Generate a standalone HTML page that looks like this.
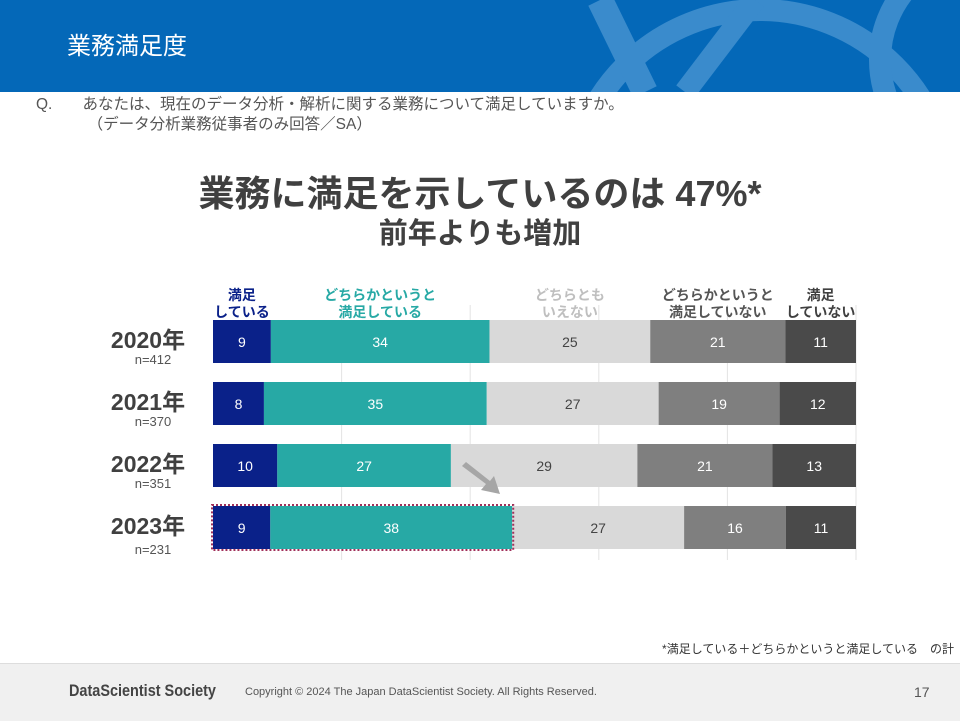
<!DOCTYPE html>
<html><head><meta charset="utf-8"><style>
body{margin:0;width:960px;height:720px;overflow:hidden;background:#fff;font-family:"Liberation Sans","Noto Sans CJK JP",sans-serif;position:relative}
.abs{position:absolute}
</style></head><body>
<div class="abs" style="left:0;top:0;width:960px;height:92px;background:#0468b8;overflow:hidden">
<svg width="960" height="92" style="position:absolute;left:0;top:0">
<circle cx="760" cy="200" r="190" fill="none" stroke="#3a8bcc" stroke-width="22"/>
<path d="M600 0 L645 92" stroke="#3a8bcc" stroke-width="26"/>
<path d="M755 0 L685 92" stroke="#3a8bcc" stroke-width="22"/>
<circle cx="990" cy="60" r="110" fill="none" stroke="#3a8bcc" stroke-width="22"/>
</svg>
<div class="abs" style="left:67px;top:26px;color:#fff;font-size:24px">業務満足度</div>
</div>
<div class="abs" style="left:36px;top:95px;font-size:15.5px;color:#555;line-height:20px">Q.&nbsp;&nbsp;&nbsp;&nbsp;&nbsp;&nbsp;&nbsp;あなたは、現在のデータ分析・解析に関する業務について満足していますか。<br>&nbsp;&nbsp;&nbsp;&nbsp;&nbsp;&nbsp;&nbsp;&nbsp;&nbsp;&nbsp;&nbsp;&nbsp;（データ分析業務従事者のみ回答／SA）</div>
<div class="abs" style="left:0;width:960px;top:165px;text-align:center;font-size:36px;font-weight:bold;color:#404040">業務に満足を示しているのは 47%*</div>
<div class="abs" style="left:0;width:960px;top:210px;text-align:center;font-size:29px;font-weight:bold;color:#404040">前年よりも増加</div>
<svg class="abs" id="chart" style="left:0;top:0" width="960" height="720"></svg>
<div class="abs" style="right:6px;top:640px;font-size:12px;color:#333">*満足している＋どちらかというと満足している　の計</div>
<div class="abs" style="left:0;top:663px;width:960px;height:57px;background:#f0f0f0;border-top:1px solid #ddd">
<div class="abs" style="left:69px;top:17px;font-size:17px;font-weight:bold;color:#444;transform:scaleX(0.85);transform-origin:left">DataScientist Society</div>
<div class="abs" style="left:245px;top:22px;font-size:11px;color:#555">Copyright © 2024  The Japan DataScientist Society. All Rights Reserved.</div>
<div class="abs" style="left:914px;top:20px;font-size:14px;color:#555">17</div>
</div>
<script>
const years=["2020年","2021年","2022年","2023年"];
const ns=["n=412","n=370","n=351","n=231"];
const cats=["満足\nしている","どちらかというと\n満足している","どちらとも\nいえない","どちらかというと\n満足していない","満足\nしていない"];
const s1=[9,8,10,9];
const s2=[34,35,27,38];
const s3=[25,27,29,27];
const s4=[21,19,21,16];
const s5=[11,12,13,11];
const series=[s1,s2,s3,s4,s5];
const colors=["#0a2189","#27a9a5","#d9d9d9","#7f7f7f","#4a4a4a"];
const txtCol=["#fff","#fff","#444","#fff","#fff"];
const legCol=["#0a2189","#27a9a5","#bfbfbf","#555","#404040"];
const svg=document.getElementById('chart');
const NS="http://www.w3.org/2000/svg";
const X0=213,X1=856,Y0=320,STEP=62,BH=43;
function el(t,a){const e=document.createElementNS(NS,t);for(const k in a)e.setAttribute(k,a[k]);svg.appendChild(e);return e;}
for(let i=1;i<=5;i++){const g=el('line',{x1:X0+(X1-X0)*i/5,x2:X0+(X1-X0)*i/5,y1:305,y2:560,stroke:'#e3e3e3','stroke-width':1});

}
years.forEach((y,r)=>{
 const tot=series.reduce((a,s)=>a+s[r],0);
 const xs=v=>(X1-X0)*v/tot;
 let x=X0;const yy=Y0+r*STEP;
 series.forEach((s,k)=>{
  const w=xs(s[r]);
  const b=el('rect',{x:x,y:yy,width:w,height:BH,fill:colors[k]});
  
  
  const t=el('text',{x:x+w/2,y:yy+27,'text-anchor':'middle','font-size':14,fill:txtCol[k]});
  t.textContent=s[r];
  
  
  x+=w;});
 const yl=el('text',{x:148,y:yy+28,'text-anchor':'middle','font-size':23,'font-weight':'bold',fill:'#404040'});
 yl.textContent=y;
 
 
 const nl=el('text',{x:153,y:yy+(r==3?48:44),'text-anchor':'middle','font-size':13,fill:'#555'});
 nl.textContent=ns[r];
 
 
});
let lx=X0;
cats.forEach((c,k)=>{
 const w2=(X1-X0)*series[k][0]/100;
 const cx=lx+w2/2;lx+=w2;
 c.split("\n").forEach((ln,j)=>{
  const t=el('text',{x:cx,y:300+j*17,'text-anchor':'middle','font-size':14,'font-weight':'bold',fill:legCol[k]});
  t.textContent=ln;
  
  });
});
const hw=(X1-X0)*(s1[3]+s2[3])/(s1[3]+s2[3]+s3[3]+s4[3]+s5[3]);
const hb=el('rect',{x:X0-1,y:Y0+3*STEP-1,width:hw+2,height:BH+2,fill:'none',stroke:'#a0305a','stroke-width':2,'stroke-dasharray':'2 2'});


const ar=el('path',{d:'M462 466 L486 484 L481 490 L500 494 L494 476 L490 481 L466 462 Z',fill:'#a6a6a6'});


</script>
</body></html>
